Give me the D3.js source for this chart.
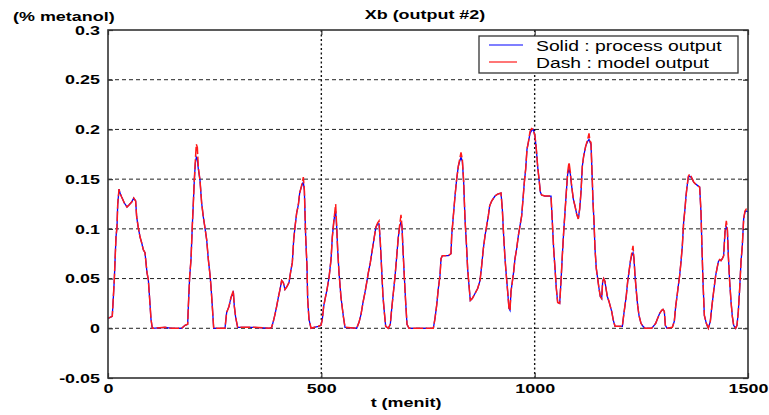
<!DOCTYPE html>
<html>
<head>
<meta charset="utf-8">
<script src="https://cdn.jsdelivr.net/npm/d3@7"></script>
<style>
  body { margin: 0; background: #fff; }
  text { font-family: "Liberation Sans", Arial, sans-serif; fill: #000; }
</style>
</head>
<body>
<script>
// time axis (menit)
const time = [
  0, 10, 12.5, 14.8, 16.4, 18.8, 21.1, 22.7, 25.8, 28.1,
  32, 38.3, 44.5, 49.2, 55.5, 60.2, 64.8, 67.2, 71.1, 75,
  78.9, 82.8, 86.7, 91.4, 94.5, 97.7, 100.8, 103.9, 133.6, 150,
  172.7, 180.5, 186.7, 188.3, 191.4, 194.5, 197.7, 200, 202.3, 204.7,
  207, 209.4, 211.7, 215.6, 219.5, 223.4, 227.3, 231.3, 235.2, 239,
  241.4, 244.5, 247.7, 274.2, 278.1, 283.6, 288.3, 293.7, 296.1, 299.2,
  303.9, 340, 380, 383.6, 387.5, 391.4, 395.3, 399.2, 403.1, 407,
  410.9, 414.8, 419.5, 424.2, 428.9, 432, 435.2, 438.3, 442.2, 446.1,
  449.2, 452.3, 455.5, 457.8, 460.2, 463.3, 466.4, 468, 471.1, 475.8,
  483.6, 493, 499.2, 502.3, 505.5, 508.6, 513.3, 518, 522.7, 525.8,
  528.9, 532, 533.6, 536, 538.3, 541.4, 546.1, 551.6, 555.5, 582.8,
  588.3, 593, 597.7, 602.3, 606.3, 610.2, 614.8, 619.5, 624.2, 628.1,
  632, 635.2, 638.3, 641.4, 644.5, 647.7, 650.8, 657, 661.7, 664.8,
  667.9, 672.7, 676.6, 680.5, 683.6, 686.7, 689.1, 691.4, 694.5, 697.7,
  700.8, 705.5, 762.5, 766.4, 770.3, 774.2, 778.1, 780.5, 783.6, 797.7,
  803.9, 805.5, 809.4, 813.3, 817.2, 821.1, 824.2, 827.3, 830.5, 833.6,
  836.7, 839.8, 842.9, 846.1, 849.2, 853.9, 860.2, 866.4, 871.9, 875.8,
  879.7, 883.6, 887.5, 891.4, 894.5, 899.2, 907, 913.3, 921.1, 924.2,
  927.3, 930.5, 933.6, 936.7, 939.8, 942.2, 944.5, 947.7, 950.8, 953.9,
  957.8, 961.7, 965.6, 969.5, 972.7, 975.8, 978.9, 982, 985.2, 989.1,
  993, 996.9, 1000.8, 1003.9, 1007, 1010.2, 1013.3, 1016.4, 1024.2, 1038.3,
  1041.4, 1044.5, 1047.7, 1050.8, 1053.9, 1058.6, 1061.7, 1064.8, 1068, 1071.1,
  1074.2, 1077.3, 1080.5, 1083.6, 1086.7, 1090.6, 1094.5, 1098.4, 1102.3, 1105.5,
  1108.6, 1111.7, 1114.8, 1119.5, 1124.2, 1127.4, 1129.7, 1132, 1133.6, 1135.2,
  1136.7, 1139.1, 1141.4, 1144.5, 1147.7, 1150.8, 1153.9, 1157, 1159.4, 1161.7,
  1164.8, 1167.2, 1170.3, 1174.2, 1177.3, 1180.5, 1184.4, 1188.3, 1205.5, 1208.6,
  1211.7, 1214.8, 1218, 1221.1, 1224.2, 1227.3, 1230.5, 1232.8, 1235.2, 1238.3,
  1241.4, 1244.5, 1249.2, 1253.9, 1258.6, 1274.2, 1283.6, 1288.3, 1293, 1297.7,
  1300.8, 1303.9, 1306.3, 1310.2, 1322.7, 1327.3, 1330.5, 1333.6, 1336.7, 1339.8,
  1343, 1346.1, 1349.2, 1352.3, 1354.7, 1357, 1360.2, 1363.3, 1366.4, 1369.5,
  1372.7, 1377.3, 1383.6, 1386.7, 1389.8, 1392.2, 1394.5, 1397.7, 1402.3, 1407,
  1411.7, 1414.8, 1419.5, 1424.2, 1427.3, 1430.5, 1433.6, 1436.7, 1439.8, 1442.9,
  1446.1, 1449.2, 1451.6, 1453.9, 1457, 1460.2, 1463.3, 1466.4, 1471.1, 1474.2,
  1477.3, 1480.5, 1483.6, 1486.7, 1489.8, 1492.9, 1496.1, 1500
];

// Solid : process output
const processOut = [
  0.010, 0.012, 0.031, 0.049, 0.067, 0.092, 0.102, 0.124, 0.140, 0.136,
  0.132, 0.126, 0.122, 0.124, 0.127, 0.131, 0.128, 0.112, 0.101, 0.092,
  0.086, 0.079, 0.076, 0.056, 0.049, 0.029, 0.009, 0.000, 0.001, 0.000,
  0.000, 0.003, 0.004, 0.022, 0.052, 0.069, 0.104, 0.126, 0.149, 0.166,
  0.172, 0.170, 0.160, 0.149, 0.126, 0.112, 0.101, 0.089, 0.069, 0.054,
  0.042, 0.022, 0.000, 0.000, 0.016, 0.022, 0.031, 0.036, 0.022, 0.011,
  0.001, 0.001, 0.000, 0.001, 0.007, 0.014, 0.022, 0.031, 0.039, 0.048,
  0.046, 0.039, 0.042, 0.046, 0.059, 0.066, 0.089, 0.102, 0.116, 0.124,
  0.136, 0.141, 0.145, 0.147, 0.139, 0.092, 0.062, 0.029, 0.009, 0.000,
  0.001, 0.002, 0.003, 0.009, 0.022, 0.029, 0.039, 0.051, 0.069, 0.092,
  0.106, 0.116, 0.118, 0.102, 0.079, 0.056, 0.031, 0.012, 0.001, 0.000,
  0.006, 0.014, 0.026, 0.036, 0.046, 0.056, 0.066, 0.079, 0.092, 0.102,
  0.105, 0.105, 0.086, 0.059, 0.032, 0.016, 0.002, 0.000, 0.004, 0.019,
  0.032, 0.052, 0.072, 0.092, 0.102, 0.107, 0.102, 0.079, 0.052, 0.026,
  0.004, 0.000, 0.000, 0.010, 0.023, 0.040, 0.053, 0.070, 0.073, 0.073,
  0.075, 0.093, 0.113, 0.133, 0.150, 0.163, 0.168, 0.172, 0.168, 0.147,
  0.110, 0.087, 0.060, 0.043, 0.028, 0.030, 0.035, 0.040, 0.048, 0.063,
  0.080, 0.093, 0.103, 0.113, 0.123, 0.128, 0.133, 0.135, 0.136, 0.120,
  0.093, 0.070, 0.053, 0.037, 0.020, 0.018, 0.037, 0.047, 0.057, 0.070,
  0.080, 0.093, 0.103, 0.113, 0.130, 0.147, 0.160, 0.180, 0.187, 0.196,
  0.199, 0.200, 0.193, 0.180, 0.163, 0.150, 0.137, 0.134, 0.133, 0.133,
  0.107, 0.080, 0.060, 0.040, 0.026, 0.025, 0.047, 0.073, 0.097, 0.117,
  0.137, 0.155, 0.160, 0.155, 0.143, 0.130, 0.123, 0.115, 0.110, 0.120,
  0.137, 0.163, 0.173, 0.183, 0.188, 0.190, 0.187, 0.185, 0.167, 0.147,
  0.127, 0.107, 0.080, 0.060, 0.050, 0.040, 0.032, 0.030, 0.047, 0.050,
  0.047, 0.040, 0.032, 0.027, 0.022, 0.017, 0.008, 0.002, 0.002, 0.013,
  0.023, 0.033, 0.047, 0.057, 0.067, 0.073, 0.076, 0.070, 0.053, 0.037,
  0.023, 0.013, 0.005, 0.002, 0.000, 0.000, 0.005, 0.010, 0.015, 0.018,
  0.019, 0.017, 0.003, 0.000, 0.001, 0.007, 0.022, 0.032, 0.043, 0.053,
  0.067, 0.083, 0.107, 0.120, 0.133, 0.142, 0.152, 0.153, 0.152, 0.150,
  0.147, 0.145, 0.143, 0.142, 0.117, 0.080, 0.047, 0.013, 0.005, 0.000,
  0.007, 0.020, 0.037, 0.053, 0.060, 0.067, 0.069, 0.068, 0.070, 0.073,
  0.097, 0.102, 0.100, 0.073, 0.047, 0.027, 0.012, 0.003, 0.000, 0.003,
  0.017, 0.040, 0.067, 0.083, 0.110, 0.117, 0.118, 0.117
];

// Dash : model output
const modelOut = [
  0.010, 0.012, 0.031, 0.049, 0.067, 0.092, 0.102, 0.124, 0.140, 0.136,
  0.132, 0.126, 0.122, 0.124, 0.127, 0.131, 0.128, 0.112, 0.101, 0.092,
  0.086, 0.079, 0.076, 0.056, 0.049, 0.029, 0.009, 0.000, 0.001, 0.000,
  0.000, 0.003, 0.004, 0.022, 0.052, 0.069, 0.104, 0.126, 0.149, 0.169,
  0.185, 0.182, 0.162, 0.149, 0.126, 0.112, 0.101, 0.089, 0.069, 0.054,
  0.042, 0.022, 0.000, 0.000, 0.016, 0.022, 0.031, 0.038, 0.022, 0.011,
  0.001, 0.001, 0.000, 0.001, 0.007, 0.014, 0.022, 0.031, 0.039, 0.048,
  0.046, 0.039, 0.042, 0.046, 0.059, 0.066, 0.089, 0.102, 0.116, 0.124,
  0.136, 0.141, 0.147, 0.152, 0.139, 0.092, 0.062, 0.029, 0.009, 0.000,
  0.001, 0.002, 0.003, 0.009, 0.022, 0.029, 0.039, 0.051, 0.069, 0.092,
  0.106, 0.119, 0.125, 0.102, 0.079, 0.056, 0.031, 0.012, 0.001, 0.000,
  0.006, 0.014, 0.026, 0.036, 0.046, 0.056, 0.066, 0.079, 0.092, 0.102,
  0.106, 0.108, 0.086, 0.059, 0.032, 0.016, 0.002, 0.000, 0.004, 0.019,
  0.032, 0.052, 0.072, 0.092, 0.104, 0.114, 0.102, 0.079, 0.052, 0.026,
  0.004, 0.000, 0.000, 0.010, 0.023, 0.040, 0.053, 0.070, 0.073, 0.073,
  0.075, 0.093, 0.113, 0.133, 0.150, 0.163, 0.170, 0.177, 0.170, 0.147,
  0.110, 0.087, 0.060, 0.043, 0.028, 0.030, 0.035, 0.040, 0.048, 0.063,
  0.080, 0.093, 0.103, 0.113, 0.123, 0.128, 0.133, 0.135, 0.136, 0.120,
  0.093, 0.070, 0.053, 0.037, 0.020, 0.018, 0.037, 0.047, 0.057, 0.070,
  0.080, 0.093, 0.103, 0.113, 0.130, 0.147, 0.160, 0.180, 0.187, 0.198,
  0.201, 0.200, 0.193, 0.180, 0.163, 0.150, 0.137, 0.134, 0.133, 0.133,
  0.107, 0.080, 0.060, 0.040, 0.026, 0.025, 0.047, 0.073, 0.097, 0.117,
  0.137, 0.157, 0.167, 0.157, 0.143, 0.130, 0.123, 0.115, 0.110, 0.120,
  0.137, 0.163, 0.173, 0.183, 0.190, 0.196, 0.188, 0.187, 0.167, 0.147,
  0.127, 0.107, 0.080, 0.060, 0.050, 0.040, 0.032, 0.030, 0.047, 0.050,
  0.047, 0.040, 0.032, 0.027, 0.022, 0.017, 0.008, 0.002, 0.002, 0.013,
  0.023, 0.033, 0.047, 0.057, 0.067, 0.075, 0.083, 0.070, 0.053, 0.037,
  0.023, 0.013, 0.005, 0.002, 0.000, 0.000, 0.005, 0.010, 0.015, 0.018,
  0.019, 0.017, 0.003, 0.000, 0.001, 0.007, 0.022, 0.032, 0.043, 0.053,
  0.067, 0.083, 0.107, 0.120, 0.133, 0.142, 0.153, 0.155, 0.153, 0.150,
  0.147, 0.145, 0.143, 0.142, 0.117, 0.080, 0.047, 0.013, 0.005, 0.000,
  0.007, 0.020, 0.037, 0.053, 0.060, 0.067, 0.069, 0.068, 0.070, 0.073,
  0.097, 0.108, 0.100, 0.073, 0.047, 0.027, 0.012, 0.003, 0.000, 0.003,
  0.017, 0.040, 0.067, 0.083, 0.110, 0.118, 0.120, 0.120
];

const xTicks = [0, 500, 1000, 1500];
const yTicks = [-0.05, 0, 0.05, 0.1, 0.15, 0.2, 0.25, 0.3];
const yTickLabels = ["-0.05", "0", "0.05", "0.1", "0.15", "0.2", "0.25", "0.3"];
const xGrid = [500, 1000];
const yGrid = [0, 0.05, 0.1, 0.15, 0.2, 0.25];
const legendItems = ["Solid : process output", "Dash : model output"];

const width = 769, height = 415;
const plotL = 108, plotR = 748, plotT = 30, plotB = 378;
const stretch = 1.38; // the original picture is wider than its fonts

const x = d3.scaleLinear().domain([0, 1500]).range([plotL, plotR]);
const y = d3.scaleLinear().domain([-0.05, 0.3]).range([plotB, plotT]);

const svg = d3.select("body").append("svg")
    .attr("width", width)
    .attr("height", height);

// grid
svg.append("g")
  .selectAll("line")
  .data(yGrid)
  .join("line")
    .attr("x1", plotL).attr("x2", plotR)
    .attr("y1", d => y(d)).attr("y2", d => y(d))
    .attr("stroke", "#222")
    .attr("stroke-width", 1)
    .attr("stroke-dasharray", "4,3");

svg.append("g")
  .selectAll("line")
  .data(xGrid)
  .join("line")
    .attr("x1", d => x(d)).attr("x2", d => x(d))
    .attr("y1", plotT).attr("y2", plotB)
    .attr("stroke", "#111")
    .attr("stroke-width", 1.4)
    .attr("stroke-dasharray", "2,2.5");

// series
const pts = time.map((t, i) => ({t, p: processOut[i], m: modelOut[i]}));

svg.append("path")
    .datum(pts)
    .attr("fill", "none")
    .attr("stroke", "#0000ff")
    .attr("stroke-width", 1.3)
    .attr("d", d3.line().x(d => x(d.t)).y(d => y(d.p)));

svg.append("path")
    .datum(pts)
    .attr("fill", "none")
    .attr("stroke", "#ff1a1a")
    .attr("stroke-width", 1.5)
    .attr("stroke-dasharray", "10,2.5")
    .attr("d", d3.line().x(d => x(d.t)).y(d => y(d.m)));

// axes (ticks pointing inward)
const fmtY = d => yTickLabels[yTicks.indexOf(d)];

function styleTicks(g) {
  g.select(".domain").remove();
  g.selectAll(".tick line").attr("stroke", "#333").attr("stroke-width", 1.2);
}

const gy = svg.append("g")
    .attr("transform", `translate(${plotL},0)`)
    .call(d3.axisLeft(y).tickValues(yTicks).tickFormat(fmtY).tickSize(-5).tickPadding(5.8))
    .call(styleTicks);
gy.selectAll("text")
    .attr("font-size", 13).attr("font-weight", "bold")
    .attr("font-family", "Liberation Sans, Arial, sans-serif")
    .attr("fill", "#000")
    .attr("transform", `scale(${stretch},1)`);

svg.append("g")
    .attr("transform", `translate(${plotR},0)`)
    .call(d3.axisRight(y).tickValues(yTicks).tickFormat("").tickSize(-5))
    .call(styleTicks);

const gx = svg.append("g")
    .attr("transform", `translate(0,${plotB})`)
    .call(d3.axisBottom(x).tickValues(xTicks).tickFormat(d3.format("d")).tickSize(-5).tickPadding(5.5))
    .call(styleTicks);
gx.selectAll("text")
    .attr("font-size", 13).attr("font-weight", "bold")
    .attr("font-family", "Liberation Sans, Arial, sans-serif")
    .attr("fill", "#000")
    .attr("transform", `scale(${stretch},1)`);

svg.append("g")
    .attr("transform", `translate(0,${plotT})`)
    .call(d3.axisTop(x).tickValues(xTicks).tickFormat("").tickSize(-5))
    .call(styleTicks);

// frame
svg.append("rect")
    .attr("x", plotL).attr("y", plotT)
    .attr("width", plotR - plotL).attr("height", plotB - plotT)
    .attr("fill", "none")
    .attr("stroke", "#333")
    .attr("stroke-width", 1.6);

// labels
function label(txt, px, py, opts = {}) {
  return svg.append("text")
      .attr("transform", `translate(${px},${py}) scale(${stretch},1)`)
      .attr("text-anchor", opts.anchor || "start")
      .attr("font-size", opts.size || 13)
      .attr("font-weight", opts.weight || "bold")
      .text(txt);
}

label("Xb (output #2)", 425, 19, {anchor: "middle"});
label("(% metanol)", 13, 21);
label("t (menit)", 406, 407, {anchor: "middle"});

// legend
const lg = svg.append("g");
lg.append("rect")
    .attr("x", 479).attr("y", 36)
    .attr("width", 259).attr("height", 37)
    .attr("fill", "#fff")
    .attr("stroke", "#333")
    .attr("stroke-width", 1.3);

const legendColors = ["#0000ff", "#ff1a1a"];
const legendY = d3.scalePoint().domain(legendItems).range([45, 62]);
legendItems.forEach((name, i) => {
  lg.append("line")
      .attr("x1", 489).attr("x2", i === 0 ? 523 : 517)
      .attr("y1", legendY(name)).attr("y2", legendY(name))
      .attr("stroke", legendColors[i])
      .attr("stroke-width", 1.2);
  const t = label(name, 536, legendY(name) + 5.5, {size: 14, weight: "normal"});
  lg.node().appendChild(t.node());
});
</script>
</body>
</html>
